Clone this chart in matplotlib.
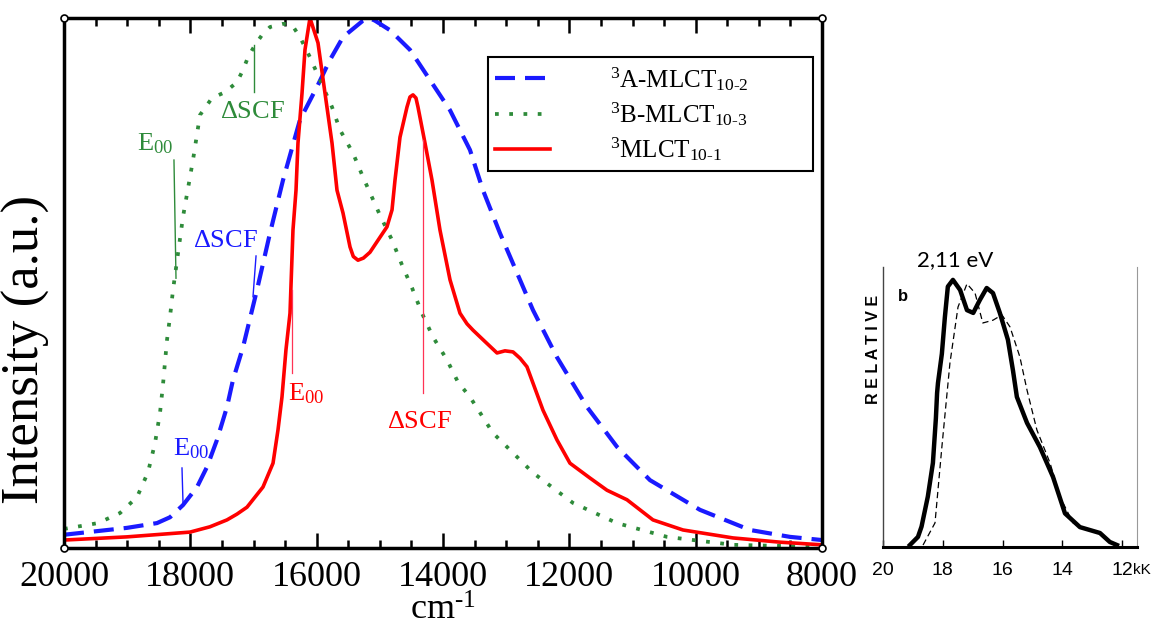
import matplotlib
matplotlib.use('Agg')
import matplotlib.pyplot as plt
from matplotlib.ticker import MultipleLocator

plt.rcParams['font.family'] = ['Liberation Serif', 'DejaVu Serif']
plt.rcParams['mathtext.fontset'] = 'custom'
plt.rcParams['mathtext.rm'] = 'Liberation Serif'
plt.rcParams['mathtext.it'] = 'Liberation Serif:italic'
plt.rcParams['mathtext.bf'] = 'Liberation Serif:bold'
plt.rcParams['mathtext.default'] = 'regular'

# computed emission spectra (wavenumber in cm-1, normalised intensity)
a_wn = [20000, 19003, 18528, 18322, 18116, 17894, 17736, 17578, 17420, 17325,
        17166, 16945, 16739, 16533, 16264, 15995, 15789, 15583, 15267, 15170,
        15077, 14839, 14523, 14206, 13889, 13573, 13367, 13098, 12576, 12196,
        11720, 11246, 10723, 9932, 9140, 8507, 8000]
a_int = [0.025, 0.038, 0.047, 0.058, 0.081, 0.115, 0.153, 0.204, 0.266, 0.317,
         0.379, 0.487, 0.594, 0.694, 0.808, 0.870, 0.921, 0.964, 0.995, 1.0,
         0.995, 0.977, 0.940, 0.883, 0.826, 0.751, 0.675, 0.594, 0.449, 0.360,
         0.266, 0.191, 0.128, 0.072, 0.034, 0.021, 0.015]

b_wn = [20000, 19462, 19113, 18844, 18670, 18559, 18480, 18433, 18370, 18322,
        18274, 18116, 17958, 17847, 17657, 17451, 17261, 17166, 17087, 16976,
        16865, 16739, 16533, 16391, 16264, 16106, 15995, 15757, 15631, 15425,
        15267, 14998, 14807, 14649, 14491, 14333, 14158, 13937, 13763, 13573,
        13209, 12576, 11942, 11246, 10454, 9409, 8000]
b_int = [0.036, 0.047, 0.066, 0.096, 0.143, 0.198, 0.255, 0.308, 0.392, 0.436,
         0.487, 0.625, 0.732, 0.817, 0.849, 0.860, 0.879, 0.902, 0.926, 0.949,
         0.968, 0.983, 0.989, 0.987, 0.964, 0.926, 0.896, 0.832, 0.789, 0.745,
         0.700, 0.628, 0.581, 0.534, 0.491, 0.443, 0.398, 0.355, 0.313, 0.285,
         0.217, 0.142, 0.085, 0.047, 0.021, 0.006, 0.002]

r_wn = [20000, 19003, 18005, 17690, 17420, 17261, 17103, 16850, 16691, 16612,
        16549, 16486, 16422, 16375, 16327, 16296, 16232, 16185, 16106, 15979,
        15868, 15757, 15678, 15583, 15472, 15420, 15346, 15260, 15156, 14887,
        14807, 14760, 14681, 14570, 14523, 14475, 14428, 14396, 14285, 14174,
        14048, 13889, 13731, 13620, 13525, 13340, 13145, 13019, 12892, 12780,
        12671, 12417, 12196, 11990, 11673, 11404, 11087, 10676, 10201, 9409,
        8665, 8000]
r_int = [0.015, 0.021, 0.030, 0.040, 0.053, 0.064, 0.077, 0.115, 0.160, 0.223,
         0.285, 0.374, 0.443, 0.600, 0.675, 0.764, 0.858, 0.940, 1.0, 0.953,
         0.858, 0.764, 0.675, 0.632, 0.568, 0.550, 0.543, 0.547, 0.558, 0.606,
         0.638, 0.694, 0.775, 0.832, 0.851, 0.855, 0.849, 0.832, 0.764, 0.694,
         0.600, 0.506, 0.443, 0.423, 0.411, 0.390, 0.368, 0.372, 0.370, 0.358,
         0.342, 0.260, 0.204, 0.160, 0.132, 0.109, 0.091, 0.053, 0.034, 0.019,
         0.011, 0.006]

series_labels = [r'$^{3}$A-MLCT$_{10\text{-}2}$',
                 r'$^{3}$B-MLCT$_{10\text{-}3}$',
                 r'$^{3}$MLCT$_{10\text{-}1}$']

# experimental spectrum (kK, relative)
exp_kk = [19.10, 18.83, 18.71, 18.50, 18.33, 18.23, 18.19, 18.16, 18.03, 17.93,
          17.83, 17.66, 17.42, 17.19, 16.98, 16.76, 16.53, 16.32, 16.09, 15.82,
          15.65, 15.52, 15.18, 14.75, 14.31, 13.91, 13.41, 12.74, 12.41, 12.17]
exp_rel = [0.007, 0.036, 0.073, 0.18, 0.30, 0.46, 0.55, 0.586, 0.69, 0.82,
           0.93, 0.954, 0.918, 0.846, 0.836, 0.882, 0.925, 0.907, 0.836, 0.74,
           0.63, 0.536, 0.443, 0.357, 0.25, 0.12, 0.071, 0.05, 0.018, 0.007]
calc_kk = [18.66, 18.26, 18.03, 17.76, 17.49, 17.19, 16.92, 16.66, 16.32, 16.02,
           15.75, 15.42, 15.18, 14.85, 14.41, 14.08, 13.64, 13.41]
calc_rel = [0.007, 0.086, 0.357, 0.657, 0.857, 0.94, 0.907, 0.80, 0.81, 0.829,
            0.786, 0.679, 0.56, 0.418, 0.30, 0.18, 0.086, 0.071]
exp_ticks = [20, 18, 16, 14, 12]

blue = '#1a1aff'
green = '#2e8b3a'
red = '#ff0000'

W, H = 1152, 632
fig = plt.figure(figsize=(W / 100, H / 100), dpi=100)

# ---- main panel ----
ax = fig.add_axes([64 / W, 1 - 548 / H, 758 / W, 530 / H])
ax.plot(a_wn, a_int, color=blue, lw=3, dashes=(4.8, 2.4), label=series_labels[0])
ax.plot(b_wn, b_int, color=green, lw=2.7, dashes=(1, 2.8), label=series_labels[1])
ax.plot(r_wn, r_int, color=red, lw=2.6, label=series_labels[2])

ax.set_xlim(20000, 8000)
ax.set_ylim(0, 1)
ax.set_yticks([])
ax.xaxis.set_major_locator(MultipleLocator(2000))
ax.xaxis.set_minor_locator(MultipleLocator(500))
ax.tick_params(axis='x', which='both', direction='in', top=True, width=1.8,
               labelsize=26, pad=9)
ax.tick_params(axis='x', which='major', length=11)
ax.tick_params(axis='x', which='minor', length=6)
for s in ax.spines.values():
    s.set_linewidth(2.5)

ax.set_ylabel('Intensity (a.u.)', fontsize=38)
ax.yaxis.set_label_coords(-0.0185, 0.374)
ax.set_xlabel(r'cm$^{\text{-}1}$', fontsize=26)
ax.xaxis.set_label_coords(0.5, -0.088)

# little open circles at the frame corners
ax.plot([0, 1, 0, 1], [0, 0, 1, 1], 'o', ms=5, mfc='white', mec='black', mew=1.2,
        transform=ax.transAxes, clip_on=False, zorder=6)

# E00 / dSCF markers
ax.plot([16992, 16992], [0.860, 0.949], color=green, lw=1)
ax.plot([18259, 18227], [0.732, 0.509], color=green, lw=1)
ax.plot([16960, 17008], [0.551, 0.474], color=blue, lw=1)
ax.plot([18132, 18116], [0.151, 0.085], color=blue, lw=1)
ax.plot([16391, 16391], [0.487, 0.330], color='#ff3355', lw=0.9)
ax.plot([14317, 14317], [0.770, 0.292], color='#ff3355', lw=0.9)

fs = 19
ax.text(17530, 0.811, r'$\Delta$SCF', color=green, fontsize=fs, va='baseline')
ax.text(18844, 0.751, 'E$_{00}$', color=green, fontsize=fs, va='baseline')
ax.text(17958, 0.568, r'$\Delta$SCF', color=blue, fontsize=fs, va='baseline')
ax.text(18274, 0.175, 'E$_{00}$', color=blue, fontsize=fs, va='baseline')
ax.text(16454, 0.279, 'E$_{00}$', color=red, fontsize=fs, va='baseline')
ax.text(14887, 0.226, r'$\Delta$SCF', color=red, fontsize=fs, va='baseline')

leg = ax.legend(loc='upper right', bbox_to_anchor=(0.559, 0.5, 0.429, 0.426),
                mode='expand', borderaxespad=0,
                fontsize=18, fancybox=False, edgecolor='black', framealpha=1,
                handlelength=2.2, handletextpad=2.4, labelspacing=0.3, borderpad=0.3)
leg.get_frame().set_linewidth(1.5)

# ---- experimental panel ----
ax2 = fig.add_axes([883 / W, 1 - 547 / H, 254 / W, 280 / H])
ax2.plot(exp_kk, exp_rel, color='black', lw=3.2, solid_joinstyle='round')
ax2.plot(calc_kk, calc_rel, color='black', lw=0.9, dashes=(5, 3))
ax2.set_xlim(20, 11.5)
ax2.set_ylim(0, 1)
ax2.set_yticks([])
ax2.set_xticks(exp_ticks)
ax2.set_xticklabels([str(t) for t in exp_ticks],
                    family=['Liberation Sans Narrow', 'Liberation Sans'], fontsize=14)
ax2.tick_params(axis='x', direction='in', length=5, width=1, pad=11)
ax2.spines['top'].set_visible(False)
ax2.spines['left'].set_linewidth(1.0)
ax2.spines['left'].set_color('#444444')
ax2.spines['right'].set_linewidth(0.8)
ax2.spines['right'].set_color('#999999')
ax2.spines['bottom'].set_linewidth(2.2)

ax2.text(11.64, -0.082, 'kK', transform=ax2.get_xaxis_transform(), ha='left', va='center',
         family=['Liberation Sans Narrow', 'Liberation Sans'], fontsize=11, clip_on=False)
ax2.text(-0.039, 0.705, 'R E L A T I V E', transform=ax2.transAxes, rotation=90,
         ha='center', va='center', family='Liberation Sans', fontweight='bold', fontsize=11.5)
ax2.text(0.079, 0.893, 'b', transform=ax2.transAxes, ha='center', va='center',
         family='Liberation Sans', fontweight='bold', fontsize=12)
ax2.text(0.283, 1.025, '2,11 eV', transform=ax2.transAxes, ha='center', va='center',
         family='Lato', fontsize=16)

fig.savefig('out.png', dpi=100)
